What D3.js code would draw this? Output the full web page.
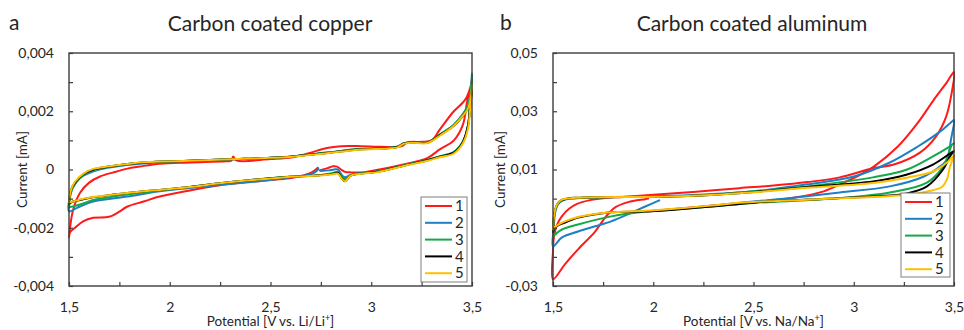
<!DOCTYPE html>
<html>
<head>
<meta charset="utf-8">
<script src="https://cdn.jsdelivr.net/npm/d3@7"></script>
<style>
  html, body { margin: 0; padding: 0; background: #fff; }
  svg { display: block; font-family: Lato, "Open Sans", sans-serif; }
</style>
</head>
<body>
<svg id="chart" width="964" height="330"></svg>
<script>
// ---- Data: cyclic voltammograms, potential [V] vs current [mA] ----
const cycleNames = ["1", "2", "3", "4", "5"];
const cycleColors = ["#ff1a1a", "#1f7fc4", "#14a84a", "#000000", "#ffc000"];

const xTicks = [1.5, 1.75, 2, 2.25, 2.5, 2.75, 3, 3.25, 3.5];
const xTickLabels = [1.5, 2, 2.5, 3, 3.5];

const yTicksCopper = [-0.004, -0.003, -0.002, -0.001, 0, 0.001, 0.002, 0.003, 0.004];
const yTickLabelsCopper = [-0.004, -0.002, 0, 0.002, 0.004];
const yTicksAluminum = [-0.03, -0.02, -0.01, 0, 0.01, 0.02, 0.03, 0.04, 0.05];
const yTickLabelsAluminum = [-0.03, -0.01, 0.01, 0.03, 0.05];

// Carbon coated copper (Li/Li+)
const copper1 = [
  [2.745,-0.00003],[2.78,0.00004],[2.81,0.00011],[2.83,0.0001],[2.85,0.0],[2.87,-0.00008],[2.9,-0.0001],[2.95,-0.0001],
  [3.0,-0.00005],[3.08,0.00005],[3.16,0.00017],[3.28,0.0004],[3.34,0.00069],[3.41,0.001],[3.455,0.00154],[3.475,0.0023],[3.493,0.0028],[3.5,0.0031],
  [3.495,0.0029],[3.475,0.0025],[3.455,0.0023],[3.41,0.002],[3.34,0.00137],[3.3,0.001],[3.25,0.00095],[3.18,0.00093],[3.15,0.0008],
  [3.05,0.00078],[2.95,0.0008],[2.85,0.0008],[2.78,0.00074],[2.7,0.00058],[2.61,0.00042],[2.5,0.00036],[2.33,0.00031],[2.315,0.00045],
  [2.305,0.0003],[2.28,0.00028],[2.1,0.00024],[1.95,0.0002],[1.85,0.0001],[1.79,0.00003],[1.72,-0.0001],[1.654,-0.00024],[1.6,-0.00045],
  [1.555,-0.0008],[1.52,-0.0014],[1.5,-0.00233],
  [1.505,-0.00216],[1.53,-0.002],[1.57,-0.00178],[1.62,-0.00166],[1.68,-0.00164],[1.71,-0.0016],[1.75,-0.00145],[1.79,-0.00127],
  [1.87,-0.0011],[1.95,-0.00093],[2.1,-0.00072],[2.28,-0.00051],[2.5,-0.00036],[2.61,-0.00028],[2.7,-0.00012],[2.735,0.00006]
];
const copper2 = [
  [2.75,-0.00005],[2.79,-0.00003],[2.815,0.0],[2.835,0.0],[2.855,-0.0002],[2.87,-0.00027],[2.9,-0.00018],[2.96,-0.00012],
  [3.03,-0.00007],[3.16,0.00014],[3.28,0.00033],[3.34,0.00045],[3.41,0.0006],[3.455,0.00096],[3.48,0.0015],[3.49,0.0022],[3.5,0.0033],
  [3.495,0.0027],[3.48,0.0022],[3.455,0.0019],[3.41,0.00154],[3.34,0.0012],[3.28,0.00093],[3.2,0.00094],[3.16,0.0009],[3.13,0.00078],
  [3.08,0.00074],[2.94,0.0007],[2.78,0.00058],[2.61,0.00045],[2.5,0.0004],[2.3,0.00035],[2.1,0.0003],[1.9,0.00022],[1.75,0.00012],
  [1.65,0.0],[1.6,-0.00012],[1.55,-0.0003],[1.52,-0.0006],[1.505,-0.0009],[1.5,-0.00144],
  [1.53,-0.00135],[1.555,-0.00127],[1.62,-0.0011],[1.79,-0.00093],[1.95,-0.00075],[2.28,-0.00051],[2.5,-0.00036],[2.6,-0.00027],
  [2.68,-0.0002],[2.72,-0.0001],[2.738,0.00002]
];
const copper3 = [
  [1.5,-0.0013],[1.51,-0.0008],[1.53,-0.0005],[1.57,-0.0002],[1.62,-0.00003],[1.7,0.0001],[1.87,0.00024],[2.1,0.0003],[2.3,0.00035],
  [2.5,0.0004],[2.61,0.00045],[2.78,0.00058],[2.94,0.0007],[3.08,0.00074],[3.13,0.00078],[3.16,0.0009],[3.2,0.00094],[3.28,0.00093],
  [3.34,0.0012],[3.41,0.00154],[3.455,0.0019],[3.48,0.0022],[3.495,0.0027],[3.5,0.0032],
  [3.49,0.0022],[3.48,0.0015],[3.455,0.00096],[3.41,0.0006],[3.34,0.00045],[3.28,0.00033],[3.16,0.00014],[3.03,-0.00007],[2.96,-0.00012],
  [2.9,-0.00019],[2.87,-0.00033],[2.855,-0.00025],[2.835,-0.00008],[2.81,-0.00012],[2.74,-0.0002],[2.6,-0.00024],[2.5,-0.0003],
  [2.28,-0.00045],[2.1,-0.0006],[1.95,-0.00072],[1.8,-0.00085],[1.7,-0.00095],[1.62,-0.00105],[1.555,-0.0012],[1.5,-0.0013]
];
const copper4 = [
  [1.5,-0.00118],[1.51,-0.0007],[1.53,-0.00045],[1.57,-0.00017],[1.62,0.0],[1.7,0.0001],[1.87,0.00024],[2.1,0.0003],[2.3,0.00035],
  [2.5,0.0004],[2.61,0.00045],[2.78,0.00057],[2.94,0.00069],[3.08,0.00073],[3.13,0.00077],[3.16,0.00089],[3.2,0.00093],[3.28,0.00092],
  [3.34,0.00118],[3.41,0.0015],[3.455,0.00185],[3.48,0.0021],[3.495,0.0024],[3.5,0.0027],
  [3.49,0.0021],[3.48,0.0015],[3.455,0.00094],[3.41,0.00058],[3.34,0.00044],[3.28,0.00032],[3.16,0.00013],[3.03,-0.00008],[2.96,-0.00013],
  [2.9,-0.0002],[2.87,-0.0004],[2.855,-0.00032],[2.835,-0.00012],[2.81,-0.00015],[2.74,-0.0002],[2.6,-0.00025],[2.5,-0.0003],
  [2.28,-0.00045],[2.1,-0.0006],[1.95,-0.0007],[1.8,-0.0008],[1.7,-0.00088],[1.6,-0.00098],[1.555,-0.00105],[1.52,-0.0011],[1.5,-0.00118]
];
const copper5 = [
  [1.5,-0.00113],[1.51,-0.0007],[1.53,-0.00042],[1.57,-0.00015],[1.62,0.00002],[1.7,0.00011],[1.87,0.00025],[2.1,0.0003],[2.3,0.00035],
  [2.5,0.0004],[2.61,0.00044],[2.78,0.00056],[2.94,0.00068],[3.08,0.00072],[3.13,0.00076],[3.16,0.00088],[3.2,0.00092],[3.28,0.00091],
  [3.34,0.00116],[3.41,0.0015],[3.455,0.00185],[3.48,0.0021],[3.495,0.0025],[3.5,0.0029],
  [3.49,0.002],[3.48,0.0014],[3.455,0.0009],[3.41,0.00055],[3.34,0.00042],[3.28,0.0003],[3.16,0.00012],[3.03,-0.00009],[2.96,-0.00014],
  [2.9,-0.0002],[2.87,-0.0004],[2.855,-0.00033],[2.835,-0.00014],[2.81,-0.00016],[2.74,-0.00021],[2.6,-0.00025],[2.5,-0.00031],
  [2.28,-0.00045],[2.1,-0.0006],[1.95,-0.0007],[1.8,-0.0008],[1.7,-0.00088],[1.6,-0.00097],[1.555,-0.00103],[1.52,-0.0011],[1.5,-0.00113]
];

// Carbon coated aluminum (Na/Na+)
const aluminum1 = [
  [1.97,-0.0044],[2.1,-0.0036],[2.3,-0.0024],[2.5,-0.0012],[2.7,0.0003],[2.85,0.0025],[2.95,0.0055],[3.02,0.0077],[3.1,0.011],
  [3.22,0.0179],[3.32,0.0261],[3.4,0.034],[3.465,0.04],[3.5,0.0435],
  [3.485,0.035],[3.46,0.028],[3.41,0.0213],[3.33,0.0158],[3.2,0.0117],[3.1,0.0105],[2.93,0.0073],[2.77,0.0057],[2.6,0.0045],
  [2.43,0.0036],[2.2,0.0023],[2.0,0.0013],[1.85,0.0006],[1.75,0.0001],[1.68,-0.0006],[1.62,-0.0018],[1.58,-0.0035],[1.545,-0.006],
  [1.52,-0.009],[1.505,-0.013],[1.5,-0.018],[1.5,-0.0277],
  [1.56,-0.0225],[1.625,-0.0174],[1.71,-0.0113],[1.76,-0.0065],[1.81,-0.003],[1.875,-0.0012],[1.96,-0.0002],[1.975,0.0]
];
const aluminum2 = [
  [2.03,-0.0042],[2.3,-0.0024],[2.5,-0.001],[2.7,0.0003],[2.93,0.0021],[3.18,0.0042],[3.35,0.0076],[3.44,0.0115],[3.465,0.0134],
  [3.485,0.0203],[3.5,0.027],
  [3.49,0.0265],[3.43,0.023],[3.32,0.0179],[3.18,0.0124],[3.0,0.0076],[2.767,0.0049],[2.5,0.0025],[2.23,0.0013],[2.0,0.0008],
  [1.7,0.0004],[1.6,0.0],[1.55,-0.0006],[1.525,-0.002],[1.51,-0.005],[1.504,-0.01],[1.5,-0.0164],
  [1.545,-0.0133],[1.625,-0.0113],[1.71,-0.0095],[1.79,-0.0078],[1.88,-0.0052],[1.96,-0.0027],[2.03,-0.0006]
];
const aluminum3 = [
  [1.5,-0.013],[1.503,-0.008],[1.51,-0.0045],[1.52,-0.0022],[1.54,-0.0007],[1.57,-0.0001],[1.62,0.0002],[1.7,0.0004],[1.96,0.0006],
  [2.23,0.0011],[2.5,0.0025],[2.767,0.0042],[3.096,0.0073],[3.266,0.01],[3.395,0.0145],[3.47,0.0175],[3.5,0.019],
  [3.49,0.0185],[3.48,0.0169],[3.445,0.011],[3.365,0.0055],[3.18,0.0021],[2.9,0.0],[2.5,-0.0015],[2.29,-0.0027],[1.96,-0.0044],
  [1.79,-0.0061],[1.625,-0.0089],[1.545,-0.0106],[1.5,-0.013]
];
const aluminum4 = [
  [1.5,-0.0115],[1.503,-0.007],[1.51,-0.004],[1.52,-0.002],[1.54,-0.0006],[1.57,0.0],[1.62,0.0003],[1.7,0.0005],[1.96,0.0006],
  [2.23,0.0011],[2.5,0.0023],[2.767,0.004],[3.096,0.0059],[3.266,0.0083],[3.395,0.0117],[3.48,0.0155],[3.5,0.0163],
  [3.49,0.0155],[3.48,0.0145],[3.445,0.01],[3.365,0.0042],[3.266,0.0018],[3.096,0.0007],[2.767,-0.0003],[2.51,-0.0013],[2.29,-0.0027],
  [2.12,-0.0037],[1.96,-0.0044],[1.79,-0.0047],[1.71,-0.0054],[1.625,-0.0065],[1.56,-0.0082],[1.51,-0.0099],[1.5,-0.0115]
];
const aluminum5 = [
  [1.5,-0.0106],[1.503,-0.007],[1.51,-0.004],[1.52,-0.002],[1.54,-0.0005],[1.57,0.0],[1.62,0.0003],[1.7,0.0005],[1.96,0.0006],
  [2.23,0.0011],[2.5,0.0022],[2.767,0.0037],[3.096,0.0054],[3.266,0.0072],[3.395,0.0093],[3.465,0.0124],[3.49,0.0142],[3.5,0.0148],
  [3.495,0.0138],[3.48,0.011],[3.465,0.0066],[3.44,0.004],[3.395,0.0029],[3.266,0.0013],[3.096,0.0006],[2.767,-0.0004],[2.43,-0.0014],
  [2.29,-0.0024],[2.12,-0.0034],[1.96,-0.0042],[1.79,-0.0047],[1.71,-0.0053],[1.625,-0.0063],[1.56,-0.0078],[1.51,-0.0097],[1.5,-0.0106]
];

const copperCycles = [copper1, copper2, copper3, copper4, copper5];
const aluminumCycles = [aluminum1, aluminum2, aluminum3, aluminum4, aluminum5];

// ---- Drawing ----
const svg = d3.select("#chart");
const locale = d3.formatLocale({ decimal: ",", thousands: ".", grouping: [3], currency: ["", ""], minus: "-" });
const fmt = locale.format("~g");
const textColor = "#262626";

function drawPanel(opts) {
  const { left, right, top, bottom, yDomain, yTicks, yLabels, cycles, title, letter,
          letterX, titleX, xTitle, yTitleX, legendBox } = opts;
  const x = d3.scaleLinear().domain([1.5, 3.5]).range([left, right]);
  const y = d3.scaleLinear().domain(yDomain).range([bottom, top]);
  const g = svg.append("g");

  // one closed or open voltammogram path per cycle
  const line = d3.line().x(d => x(d[0])).y(d => y(d[1])).curve(d3.curveCatmullRom.alpha(0.5));
  g.append("g")
    .selectAll("path").data(cycles).join("path")
    .attr("d", line)
    .attr("fill", "none")
    .attr("stroke", (d, i) => cycleColors[i])
    .attr("stroke-width", 2)
    .attr("stroke-linejoin", "round")
    .attr("stroke-linecap", "round");

  // plot frame
  g.append("rect")
    .attr("x", left).attr("y", top)
    .attr("width", right - left).attr("height", bottom - top)
    .attr("fill", "none").attr("stroke", "#3c3c3c").attr("stroke-width", 1.4);

  // axes with inward ticks; labels only on the major ticks
  const labelSetX = new Set(xTickLabels.map(String));
  const xAxis = d3.axisBottom(x).tickValues(xTicks).tickSizeInner(-4).tickSizeOuter(0).tickPadding(16)
    .tickFormat(v => labelSetX.has(String(v)) ? fmt(v) : "");
  const gx = g.append("g").attr("transform", `translate(0,${bottom})`).call(xAxis);
  gx.select(".domain").remove();
  gx.selectAll("line").attr("stroke", "#3c3c3c").attr("stroke-width", 1.2);
  gx.selectAll("text").attr("fill", textColor).style("font-size", "14px").attr("font-family", "Lato, sans-serif");

  const labelSetY = new Set(yLabels.map(String));
  const yAxis = d3.axisLeft(y).tickValues(yTicks).tickSizeInner(-4).tickSizeOuter(0).tickPadding(15)
    .tickFormat(v => labelSetY.has(String(v)) ? fmt(v) : "");
  const gy = g.append("g").attr("transform", `translate(${left},0)`).call(yAxis);
  gy.select(".domain").remove();
  gy.selectAll("line").attr("stroke", "#3c3c3c").attr("stroke-width", 1.2);
  gy.selectAll("text").attr("fill", textColor).style("font-size", "14px").attr("font-family", "Lato, sans-serif");

  // titles
  g.append("text").attr("x", titleX).attr("y", 31).attr("text-anchor", "middle")
    .attr("fill", textColor).style("font-size", "21px").text(title);
  g.append("text").attr("x", letterX).attr("y", 30)
    .attr("fill", textColor).style("font-size", "21px").text(letter);
  const xt = g.append("text").attr("x", (left + right) / 2).attr("y", 326).attr("text-anchor", "middle")
    .attr("fill", textColor).style("font-size", "13.5px");
  xt.append("tspan").text(xTitle[0]);
  xt.append("tspan").attr("dy", -5).style("font-size", "9px").text("+");
  xt.append("tspan").attr("dy", 5).text("]");
  g.append("text").attr("transform", `translate(${yTitleX},${(top + bottom) / 2}) rotate(-90)`)
    .attr("text-anchor", "middle").attr("dy", "0.35em")
    .attr("fill", textColor).style("font-size", "13.5px").text("Current [mA]");

  // legend
  const lb = legendBox;
  const lg = g.append("g");
  lg.append("rect").attr("x", lb.x).attr("y", lb.y).attr("width", lb.w).attr("height", lb.h)
    .attr("fill", "#fff").attr("stroke", "#7f7f7f").attr("stroke-width", 1);
  cycleNames.forEach((name, i) => {
    const yy = lb.y + lb.first + i * lb.step;
    lg.append("line").attr("x1", lb.x + 4).attr("x2", lb.x + 4 + lb.len)
      .attr("y1", yy).attr("y2", yy).attr("stroke", cycleColors[i]).attr("stroke-width", 2);
    lg.append("text").attr("x", lb.x + 7 + lb.len).attr("y", yy).attr("dy", "0.35em")
      .attr("fill", textColor).style("font-size", "15px").text(name);
  });
}

drawPanel({
  left: 69, right: 472, top: 53, bottom: 286,
  yDomain: [-0.004, 0.004], yTicks: yTicksCopper, yLabels: yTickLabelsCopper,
  cycles: copperCycles, title: "Carbon coated copper", letter: "a",
  letterX: 9, titleX: 270, xTitle: ["Potential [V vs. Li/Li"], yTitleX: 22,
  legendBox: { x: 421, y: 197, w: 46, h: 85, first: 9, step: 16.8, len: 27 }
});
drawPanel({
  left: 553, right: 954, top: 53, bottom: 286,
  yDomain: [-0.03, 0.05], yTicks: yTicksAluminum, yLabels: yTickLabelsAluminum,
  cycles: aluminumCycles, title: "Carbon coated aluminum", letter: "b",
  letterX: 500, titleX: 752, xTitle: ["Potential [V vs. Na/Na"], yTitleX: 500,
  legendBox: { x: 901, y: 193, w: 49, h: 84, first: 9, step: 16.8, len: 27 }
});
</script>
</body>
</html>
